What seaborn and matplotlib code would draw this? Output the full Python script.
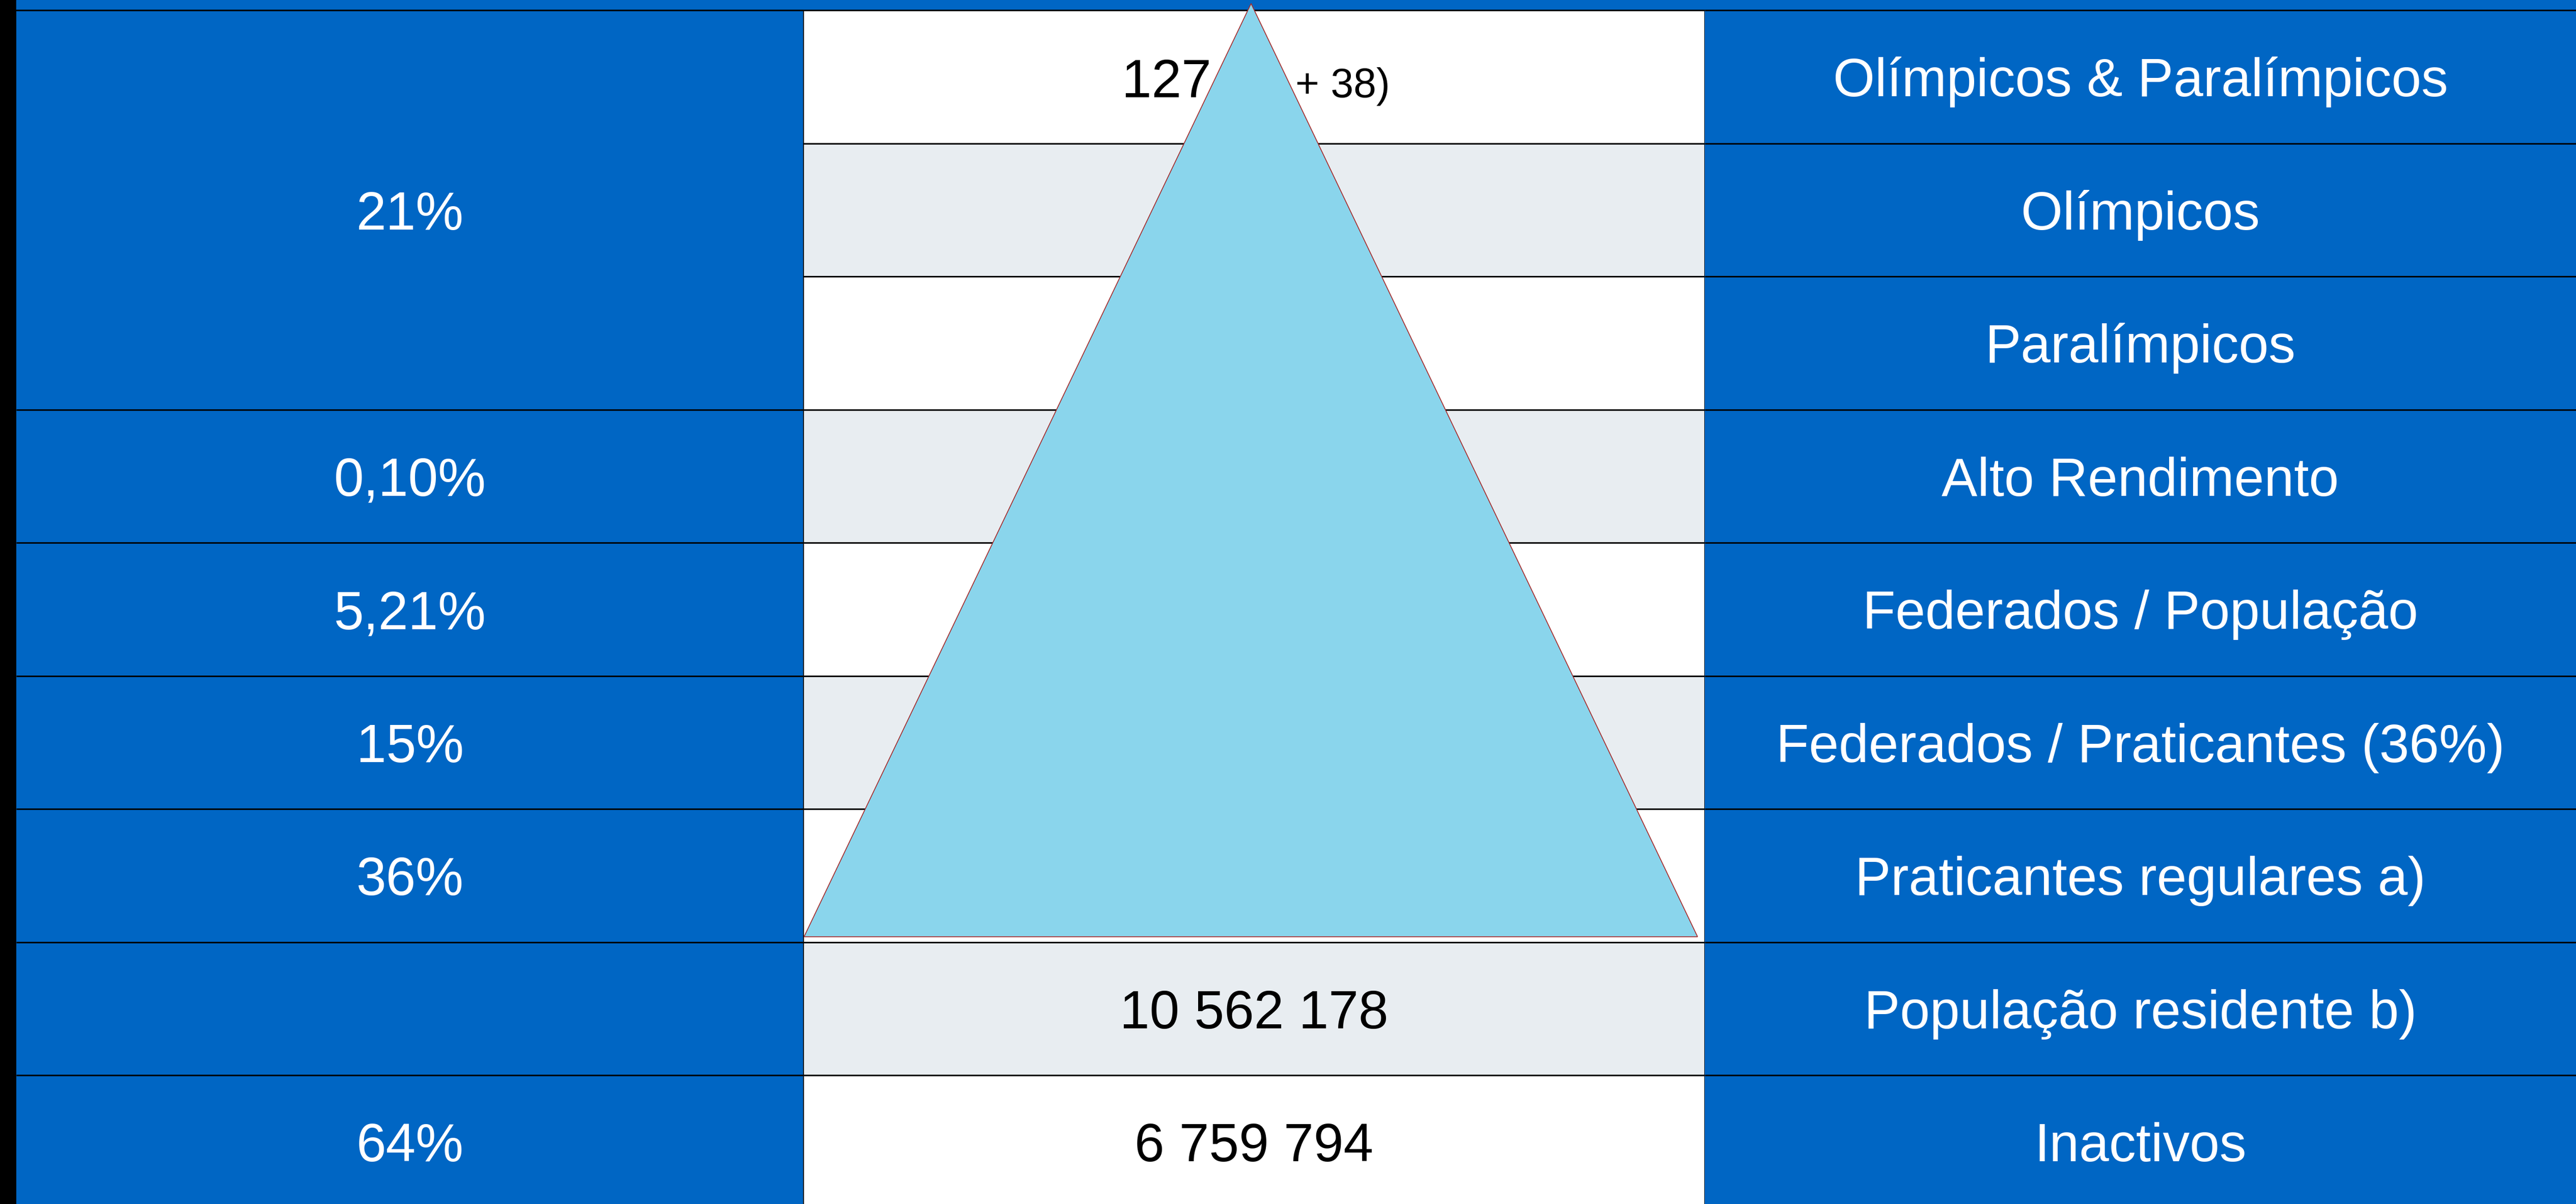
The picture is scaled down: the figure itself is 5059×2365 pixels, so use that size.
"""Pirâmide do desporto — tabela de três colunas com triângulo, seaborn + matplotlib."""

import matplotlib
matplotlib.use("Agg")
import matplotlib.pyplot as plt
from matplotlib.colors import ListedColormap
from matplotlib.patches import Polygon, Rectangle
import numpy as np
import seaborn as sns

# dados
left_labels = ["21%", "0,10%", "5,21%", "15%", "36%", "", "64%"]
left_spans = [3, 1, 1, 1, 1, 1, 1]  # a primeira célula junta 3 linhas
middle_labels = ["127", "", "", "", "", "", "", "10 562 178", "6 759 794"]
middle_extra = "+ 38)"
right_labels = [
    "Olímpicos & Paralímpicos",
    "Olímpicos",
    "Paralímpicos",
    "Alto Rendimento",
    "Federados / População",
    "Federados / Praticantes (36%)",
    "Praticantes regulares a)",
    "População residente b)",
    "Inactivos",
]
pyramid_rows = 7  # o triângulo cobre as primeiras 7 linhas

BLUE = "#0066C4"
WHITE = "#FFFFFF"
GREY = "#E8EDF1"
TRI = "#8AD5EC"
cmap = ListedColormap([BLUE, WHITE, GREY])

sns.set_theme(style="white")
plt.rcParams["font.family"] = ["Liberation Sans", "DejaVu Sans"]

W, H = 5059, 2365
TOP = 20          # faixa azul no topo
ROW_H = 261.5
X_EDGES = [32, 1578, 3348, W]
n_rows = len(right_labels)

fig = plt.figure(figsize=(W / 100, H / 100), dpi=100, facecolor="black")
fig.patches.append(Rectangle((X_EDGES[0] / W, 1 - TOP / H), 1, TOP / H,
                             transform=fig.transFigure, color=BLUE, zorder=-1))

bottom_px = TOP + n_rows * ROW_H
axes = []
for i in range(3):
    x0, x1 = X_EDGES[i], X_EDGES[i + 1]
    ax = fig.add_axes([x0 / W, 1 - bottom_px / H, (x1 - x0) / W, (bottom_px - TOP) / H])
    axes.append(ax)

codes = [
    np.zeros(n_rows),
    np.array([1 + (r % 2) for r in range(n_rows)]),
    np.zeros(n_rows),
]
for ax, c in zip(axes, codes):
    sns.heatmap(c.reshape(-1, 1), ax=ax, cmap=cmap, vmin=-0.5, vmax=2.5, cbar=False,
                xticklabels=False, yticklabels=False, linewidths=0)

FS = 76
BASE = 0.148  # desvio da linha de base em relação ao centro da linha
txt = dict(fontsize=FS, ha="center", va="baseline")
LINE = dict(color="black", lw=2.2, clip_on=False)

# coluna esquerda (com célula fundida)
ax = axes[0]
r = 0
for lab, span in zip(left_labels, left_spans):
    ax.text(0.5, r + span / 2 + BASE, lab, color="white", **txt)
    ax.hlines(r, 0, 1, **LINE)
    r += span
ax.hlines(r, 0, 1, **LINE)

# coluna do meio
ax = axes[1]
for r, lab in enumerate(middle_labels):
    if r == 0 or not lab:
        continue
    ax.text(0.5, r + 0.5 + BASE, lab, color="black", **txt)
ax.text(0.353, 0.653, middle_labels[0], color="black", fontsize=FS, ha="left",
        va="baseline", zorder=1)
ax.text(0.546, 0.653, middle_extra, color="black", fontsize=58, ha="left",
        va="baseline", zorder=1)
ax.hlines(range(n_rows + 1), 0, 1, **LINE)
ax.vlines([0, 1], 0, n_rows, color="black", lw=1.3, clip_on=False)
tri = Polygon([(0.0006, pyramid_rows - 0.04), (0.4966, -0.05), (0.992, pyramid_rows - 0.04)],
              closed=True, facecolor=TRI, edgecolor="#A52A2A", lw=1.2,
              zorder=5, clip_on=False)
ax.add_patch(tri)

# coluna direita
ax = axes[2]
for r, lab in enumerate(right_labels):
    ax.text(0.5, r + 0.5 + BASE, lab, color="white", **txt)
ax.hlines(range(n_rows + 1), 0, 1, **LINE)

# linha de topo sobre a faixa preta
axes[0].hlines(0, -X_EDGES[0] / (X_EDGES[1] - X_EDGES[0]), 1, **LINE)

fig.savefig("out.png", dpi=100, facecolor=fig.get_facecolor())
